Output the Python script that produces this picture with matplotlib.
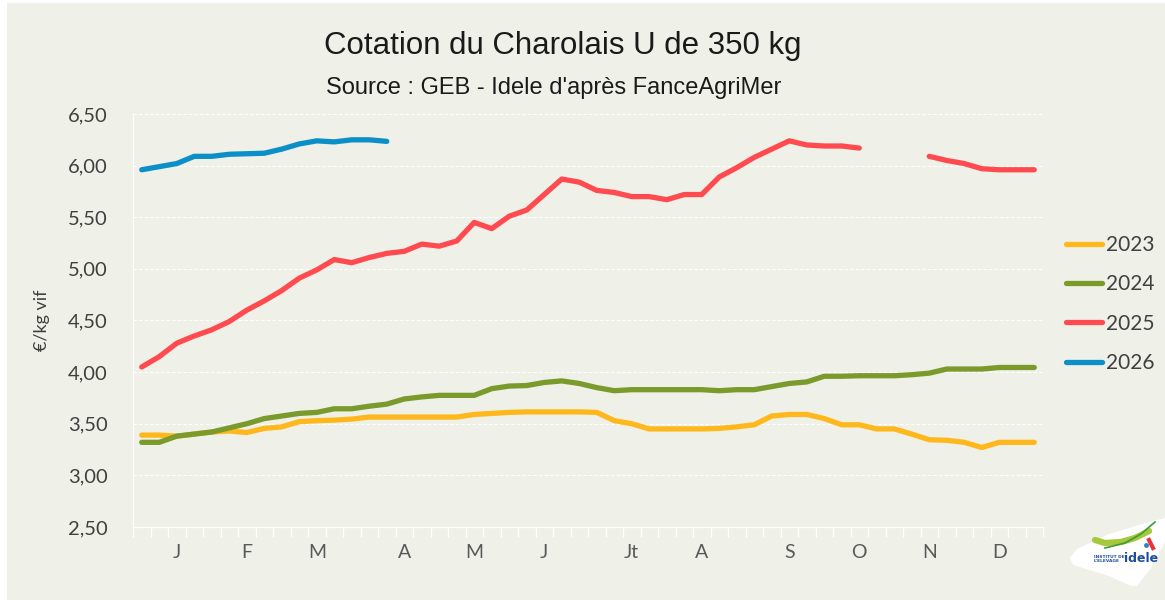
import matplotlib
matplotlib.use("Agg")
import matplotlib.pyplot as plt
import numpy as np
from matplotlib.patches import Rectangle, Polygon

# Weekly prices (EUR/kg vif), 52 weeks
y2023 = [3.39, 3.39, 3.38, 3.40, 3.42, 3.43, 3.415, 3.455, 3.47, 3.52,
         3.53, 3.535, 3.545, 3.565, 3.565, 3.565, 3.565, 3.565, 3.565, 3.59,
         3.60, 3.61, 3.615, 3.615, 3.615, 3.615, 3.61, 3.53, 3.50, 3.45,
         3.45, 3.45, 3.45, 3.455, 3.47, 3.49, 3.575, 3.59, 3.59, 3.55,
         3.49, 3.49, 3.45, 3.45, 3.40, 3.345, 3.34, 3.32, 3.27, 3.32,
         3.32, 3.32]
y2024 = [3.32, 3.32, 3.38, 3.40, 3.42, 3.46, 3.50, 3.55, 3.575, 3.60,
         3.61, 3.645, 3.645, 3.67, 3.69, 3.74, 3.76, 3.775, 3.775, 3.775,
         3.84, 3.865, 3.87, 3.90, 3.915, 3.89, 3.85, 3.82, 3.83, 3.83,
         3.83, 3.83, 3.83, 3.82, 3.83, 3.83, 3.86, 3.89, 3.905, 3.96,
         3.96, 3.965, 3.965, 3.965, 3.975, 3.99, 4.03, 4.03, 4.03, 4.045,
         4.045, 4.045]
y2025 = [4.05, 4.15, 4.28, 4.35, 4.41, 4.49, 4.60, 4.69, 4.79, 4.91,
         4.99, 5.09, 5.06, 5.11, 5.15, 5.17, 5.24, 5.22, 5.27, 5.45,
         5.39, 5.51, 5.57, 5.72, 5.87, 5.84, 5.76, 5.74, 5.70, 5.70,
         5.67, 5.72, 5.72, 5.89, 5.98, 6.08, 6.16, 6.24, 6.20, 6.19,
         6.19, 6.17, np.nan, np.nan, np.nan, 6.09, 6.05, 6.02, 5.97, 5.96,
         5.96, 5.96]
y2026 = [5.96, 5.99, 6.02, 6.09, 6.09, 6.11, 6.115, 6.12, 6.16, 6.21,
         6.24, 6.23, 6.25, 6.25, 6.235]

years = ["2023", "2024", "2025", "2026"]
colors = ["#FFB81C", "#7A9A2B", "#FF4B4F", "#0B8FC8"]

months = ["J", "F", "M", "A", "M", "J", "Jt", "A", "S", "O", "N", "D"]
month_weeks = [2, 6, 10, 15, 19, 23, 28, 32, 37, 41, 45, 49]

bg = "#EFF0E7"
txt = "#404040"

fig = plt.figure(figsize=(11.65, 6), dpi=100, facecolor="white")
fig.patches.append(Rectangle((7 / 1165, 0), 1, 1 - 3 / 600, transform=fig.transFigure,
                             facecolor=bg, edgecolor="none", zorder=-10))

ax = fig.add_axes([133 / 1165, 73 / 600, 910 / 1165, 413 / 600])
ax.set_facecolor(bg)

weeks = np.arange(52)
for yr, vals, c in zip(years, [y2023, y2024, y2025, y2026], colors):
    ax.plot(weeks[:len(vals)], vals, color=c, lw=3.8, solid_capstyle="round",
            solid_joinstyle="round", label=yr, zorder=3)

ax.set_xlim(-0.5, 51.5)
ax.set_ylim(2.5, 6.5)
ax.set_yticks(np.arange(2.5, 6.51, 0.5))
ax.set_yticklabels([f"{v:.2f}".replace(".", ",") for v in np.arange(2.5, 6.51, 0.5)])
ax.yaxis.grid(True, color="white", ls=(0, (3, 2)), lw=0.8)
ax.set_axisbelow(True)

ax.set_xticks(np.arange(-0.5, 52, 1))
ax.set_xticklabels([])
ax.set_xticks(month_weeks, minor=True)
ax.set_xticklabels(months, minor=True)
ax.tick_params(axis="x", which="major", length=7, color="white", width=1)
ax.tick_params(axis="x", which="minor", length=0, pad=12, labelsize=14, labelcolor="#595959")
ax.tick_params(axis="y", length=0, pad=18, labelsize=14.5, labelcolor=txt)
for lab in ax.get_xticklabels(minor=True) + ax.get_yticklabels():
    lab.set_family("Lato")

for s in ["top", "right"]:
    ax.spines[s].set_visible(False)
for s in ["left", "bottom"]:
    ax.spines[s].set_color("white")
    ax.spines[s].set_linewidth(1)

ax.set_ylabel("€/kg vif", fontsize=13, color=txt, family="Lato", labelpad=13)

fig.text(563 / 1165, 1 - 46 / 600, "Cotation du Charolais U de 350 kg", ha="center", va="center",
         fontsize=22.5, color="#1a1a1a", family="Liberation Sans")
fig.text(554 / 1165, 1 - 88 / 600, "Source : GEB - Idele d'après FanceAgriMer", ha="center",
         va="center", fontsize=17, color="#1a1a1a", family="Liberation Sans")

leg = ax.legend(loc="upper left", bbox_to_anchor=(1066 / 1165, 1 - 235 / 600),
                bbox_transform=fig.transFigure, frameon=False, handlelength=1.75,
                handletextpad=0.15, labelspacing=0.93, prop={"family": "Lato", "size": 15},
                borderaxespad=0, borderpad=0)
for t in leg.get_texts():
    t.set_color(txt)

# logo (local pixel coords, origin top-left of the logo box)
lax = fig.add_axes([1069 / 1165, 12 / 600, 96 / 1165, 76 / 600])
lax.set_xlim(0, 96)
lax.set_ylim(76, 0)
lax.axis("off")
lax.add_patch(Polygon([(1, 46), (8, 37), (40, 22), (80, 10), (96, 6), (96, 30), (82, 56),
                       (68, 74), (62, 74), (40, 64), (4, 53)], closed=True,
                      facecolor="white", edgecolor="none"))
lax.plot([26, 36, 52, 66, 80], [28, 31, 30, 26, 19], color="#A5C93A", lw=4.5,
         solid_capstyle="round")
lax.plot([36, 56, 72, 86], [36, 31, 22, 10], color="#3D9B35", lw=1.2)
lax.plot([80, 84], [28, 36], color="#E8353B", lw=3)
lax.plot([77], [33], "o", color="#3C7DC4", ms=2.5)
lax.text(25, 47, "INSTITUT DE\nL'ELEVAGE", fontsize=3.2, color="#1F4E9C", va="center",
         fontweight="bold", linespacing=0.9)
lax.text(55, 47, "idele", fontsize=9, color="#1F4E9C", va="center", fontweight="bold")

fig.savefig("out.png", dpi=100, facecolor=fig.get_facecolor())
